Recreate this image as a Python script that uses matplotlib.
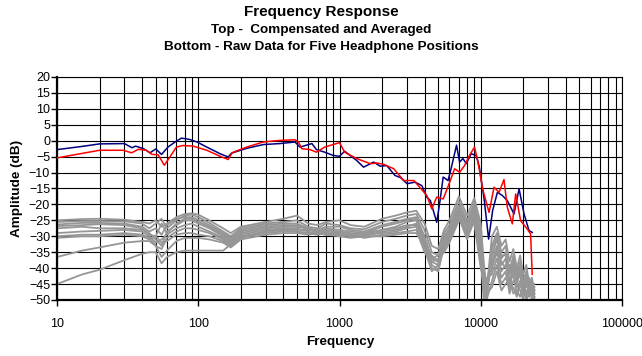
import matplotlib
matplotlib.use('Agg')
import matplotlib.pyplot as plt
from matplotlib.ticker import LogLocator, NullFormatter, FixedLocator

plt.rcParams['font.family'] = ['Liberation Sans', 'DejaVu Sans']

# Compensated and averaged curves
blue_freq = [10, 15, 20, 30, 34, 36, 41, 45.5, 50, 55, 61, 68.5, 76, 87, 98, 115, 143, 163, 172,
             220, 289, 378, 484, 525, 638, 687, 785, 900, 1000, 1087, 1323, 1480, 1745, 1940,
             2160, 2470, 2710, 3010, 3430, 3830, 4150, 4400, 4880, 5150, 5420, 5870, 6200,
             6740, 7080, 7480, 7900, 8560, 9270, 9780, 10600, 11370, 12140, 13120, 14220,
             15420, 17200, 18680, 20260, 21960, 23140]
blue_db = [-2.8, -1.8, -1.0, -0.9, -2.2, -1.7, -2.5, -3.8, -2.6, -4.3, -2.0, -0.4, 0.8, 0.4, -0.4,
           -2.0, -4.1, -5.1, -3.9, -2.4, -1.2, -0.9, -0.4, -2.0, -0.9, -2.8, -3.6, -4.6, -4.9,
           -3.3, -6.2, -8.3, -6.7, -8.0, -7.8, -10.9, -11.6, -13.5, -13.0, -14.1, -17.7, -18.8,
           -25.6, -18.8, -11.4, -12.5, -8.3, -1.4, -6.7, -5.6, -7.2, -4.1, -4.6, -8.3, -18.8,
           -30.9, -21.9, -16.2, -17.2, -18.8, -23.0, -15.1, -23.0, -28.2, -28.8]

red_freq = [10, 20, 29.4, 33.8, 37.6, 43, 47, 52, 57.5, 63, 70, 78, 92, 115, 143, 163, 172, 177,
            220, 289, 378, 484, 512, 541, 620, 687, 785, 1000, 1087, 1323, 1650, 1840, 2050,
            2420, 2850, 3360, 3730, 4150, 4500, 4880, 5420, 6030, 6530, 7080, 7680, 8330, 9030,
            9520, 10300, 11450, 12420, 13470, 14600, 15420, 16730, 17670, 19150, 21340, 22530,
            23140]
red_db = [-5.4, -3.0, -3.0, -3.8, -2.7, -3.0, -4.3, -4.4, -7.7, -5.1, -2.0, -1.5, -1.7, -3.0,
          -4.9, -5.9, -4.1, -3.6, -2.0, -0.4, 0.1, 0.3, -0.4, -2.5, -2.8, -3.6, -2.0, -0.6, -3.6,
          -5.6, -7.2, -7.0, -7.4, -8.8, -12.5, -12.5, -14.8, -17.2, -21.4, -17.7, -18.3, -13.0,
          -8.8, -9.9, -7.8, -4.6, -2.0, -6.2, -15.1, -22.5, -14.6, -16.2, -12.2, -20.9, -26.1,
          -16.7, -25.1, -27.7, -29.3, -41.9]

# Raw data, five headphone positions (two traces each)
raw_freq = [10, 15, 20, 30, 40, 45, 50, 55, 60, 70, 80, 90, 100, 120, 150, 170, 200, 300, 400,
            500, 600, 700, 800, 1000, 1200, 1500, 2000, 2500, 3000, 3500, 4000, 4500, 5000,
            5500, 6000, 7000, 8000, 9000, 10000, 10500, 11000, 12000, 13000, 14000, 15000,
            16000, 17000, 18000, 19000, 20000, 21000, 22000, 23000, 24000]
raw_1 = [-25, -24.6, -24.5, -24.8, -25.5, -26, -25, -27, -26, -24, -23, -22.8, -23.2, -25, -27.5,
         -29, -27, -25.5, -24.5, -23.5, -26, -26.5, -25.5, -25, -26.5, -27, -24.5, -23.5, -22.5,
         -22, -26, -33, -34, -28, -25, -17.5, -23.5, -18, -26, -38, -47, -30, -27, -33, -31,
         -38, -34, -40, -36, -42, -39, -45, -43, -47]
raw_2 = [-25.5, -25.2, -25.2, -25.3, -26, -27.5, -26, -24.5, -27.5, -25, -23.5, -23.2, -24,
         -25.8, -28.5, -30, -27.5, -26, -25.5, -25, -27, -27.5, -26, -26.5, -27.5, -27.8, -25.5,
         -24.5, -23.5, -23, -28, -35, -36, -29, -26.5, -19, -25, -19.5, -28, -42, -50, -33, -29,
         -35, -33, -42, -36, -43, -38, -45, -41, -48, -44, -49]
raw_3 = [-26.3, -25.8, -25.8, -26, -27, -28.5, -27.5, -29.5, -26.5, -24.5, -24, -24, -24.8,
         -26.5, -29, -30.5, -28, -26.5, -26, -26, -27.5, -28, -27, -27, -28, -28.5, -26.5, -25.5,
         -24.5, -24, -30, -37, -38, -30, -27.5, -20.5, -26.5, -21, -30, -45, -49, -36, -31, -37,
         -35, -45, -38, -46, -40, -47, -43, -46, -46, -48]
raw_4 = [-26.8, -26.5, -26.2, -26.5, -27.5, -29.5, -30, -26, -29, -26, -24.5, -24.5, -25.5, -27,
         -29.5, -31, -28.5, -27, -26.5, -26.5, -28, -28.5, -27.5, -28, -28.5, -29, -27, -26, -25,
         -24.5, -31, -38, -39, -31, -28, -21.5, -27.5, -22, -32, -47, -44, -38, -33, -39, -37,
         -47, -40, -44, -42, -49, -45, -43, -48, -46]
raw_5 = [-27.5, -27, -27.5, -27.5, -28, -29, -31, -33, -28.5, -26.5, -25, -25, -26, -27.5, -30,
         -31.5, -29, -27.5, -27, -27, -27.5, -29, -28, -28.5, -29, -29.5, -28, -27, -25.5, -25,
         -32, -39, -40.5, -32, -29, -22.5, -29, -23, -34, -48, -46, -40, -35, -41, -39, -44, -42,
         -48, -44, -46, -47, -49, -45, -50]
raw_6 = [-29, -28.5, -28.3, -28, -28.5, -30, -32, -31, -29.5, -27.5, -26.5, -26, -27, -28.5,
         -30.5, -32, -29.5, -28, -27.5, -27.5, -28.5, -29.5, -28.5, -29, -29.5, -30, -28.5, -28,
         -27, -26, -33, -40, -41, -33, -30, -23, -30, -24, -36, -50, -43, -42, -37, -43, -41,
         -48, -44, -45, -47, -50, -44, -47, -49, -47]
raw_7 = [-30, -29.5, -29.5, -29, -29.5, -30.5, -33, -34, -30.5, -28.5, -27.5, -27.5, -28, -29,
         -31, -32.5, -30, -28.5, -28, -28, -28, -28.5, -29, -29.5, -30, -29.5, -29, -28.5, -27.5,
         -27, -34, -41, -39, -34, -31, -24, -31, -25, -38, -46, -50, -44, -39, -45, -43, -46,
         -46, -49, -45, -48, -49, -45, -50, -49]
raw_8 = [-30.5, -30, -30, -29.5, -30, -31, -30, -32, -31.5, -29.5, -29, -29, -29.5, -30, -31.5,
         -33, -30.5, -29, -28.5, -28.5, -29, -29, -29.5, -29, -29.5, -30.5, -29.5, -29, -28.5,
         -28, -35, -38, -37, -35, -32, -25, -28, -26, -40, -44, -48, -46, -41, -47, -45, -43,
         -48, -47, -49, -44, -50, -48, -47, -50]
raw_9 = [-36.5, -34.5, -33.5, -32, -31.5, -31.5, -33, -36.5, -34.5, -31.5, -30.5, -30.5, -30.5,
         -31, -32, -33.5, -31, -29.5, -29, -29, -29.5, -29, -29.5, -30, -30.5, -30, -30, -29.5,
         -29, -29, -33, -36, -38, -33, -30, -22, -27, -20, -35, -41, -45, -39, -34, -38, -40,
         -39, -41, -43, -41, -44, -46, -44, -46, -45]
raw_10 = [-45, -42, -40.5, -37.5, -35.5, -35, -35, -38.5, -36.5, -35, -34.5, -34.5, -34.5,
          -34.5, -34.5, -32.5, -30.5, -28.5, -28, -28.5, -29, -29.5, -29, -29.5, -29.5, -29,
          -28, -27.5, -26.5, -26.5, -31, -37, -36, -31, -28, -20.5, -26, -21, -31, -43, -47,
          -34, -30, -36, -36, -40, -37, -41, -39, -43, -42, -44, -47, -48]
raw_traces = [raw_1, raw_2, raw_3, raw_4, raw_5, raw_6, raw_7, raw_8, raw_9, raw_10]

fig = plt.figure(figsize=(6.42, 3.56), dpi=100)
ax = fig.add_axes([57 / 642, 1 - 300 / 356, (622 - 57) / 642, (300 - 77) / 356])

for tr in raw_traces:
    ax.plot(raw_freq, tr, color='#969696', lw=1.3, zorder=2)
ax.plot(blue_freq, blue_db, color='#000080', lw=1.1, zorder=3)
ax.plot(red_freq, red_db, color='#ff0000', lw=1.1, zorder=4)

ax.set_xscale('log')
ax.set_xlim(10, 100000)
ax.set_ylim(-50, 20)
ax.set_yticks(range(-50, 25, 5))
ax.xaxis.set_major_locator(FixedLocator([10, 100, 1000, 10000, 100000]))
ax.set_xticklabels(['10', '100', '1000', '10000', '100000'])
ax.xaxis.set_minor_locator(LogLocator(base=10, subs=range(2, 10)))
ax.xaxis.set_minor_formatter(NullFormatter())

ax.grid(True, which='major', color='black', lw=0.8, zorder=1)
ax.grid(True, which='minor', axis='x', color='black', lw=0.8, zorder=1)
ax.set_axisbelow(True)

ax.tick_params(axis='both', which='major', direction='out', length=4, width=1,
               labelsize=9, colors='black')
ax.tick_params(axis='x', which='minor', length=0)
ax.tick_params(axis='x', pad=9)
ax.tick_params(axis='y', pad=1)

for side in ['left', 'bottom']:
    ax.spines[side].set_linewidth(1.6)
for side in ['top', 'right']:
    ax.spines[side].set_linewidth(0.8)

fig.text(340 / 642, 1 - 342 / 356, 'Frequency', ha='center', va='center',
         fontsize=9.7, fontweight='bold')
fig.text(17 / 642, 1 - 188 / 356, 'Amplitude (dB)', ha='center', va='center',
         rotation=90, fontsize=9.7, fontweight='bold')

fig.text(0.5, 1 - 12 / 356, 'Frequency Response', ha='center', va='center',
         fontsize=11, fontweight='bold')
fig.text(0.5, 1 - 30 / 356, 'Top -  Compensated and Averaged', ha='center', va='center',
         fontsize=9.7, fontweight='bold')
fig.text(0.5, 1 - 47 / 356, 'Bottom - Raw Data for Five Headphone Positions', ha='center',
         va='center', fontsize=9.7, fontweight='bold')

fig.savefig('out.png', dpi=100)
